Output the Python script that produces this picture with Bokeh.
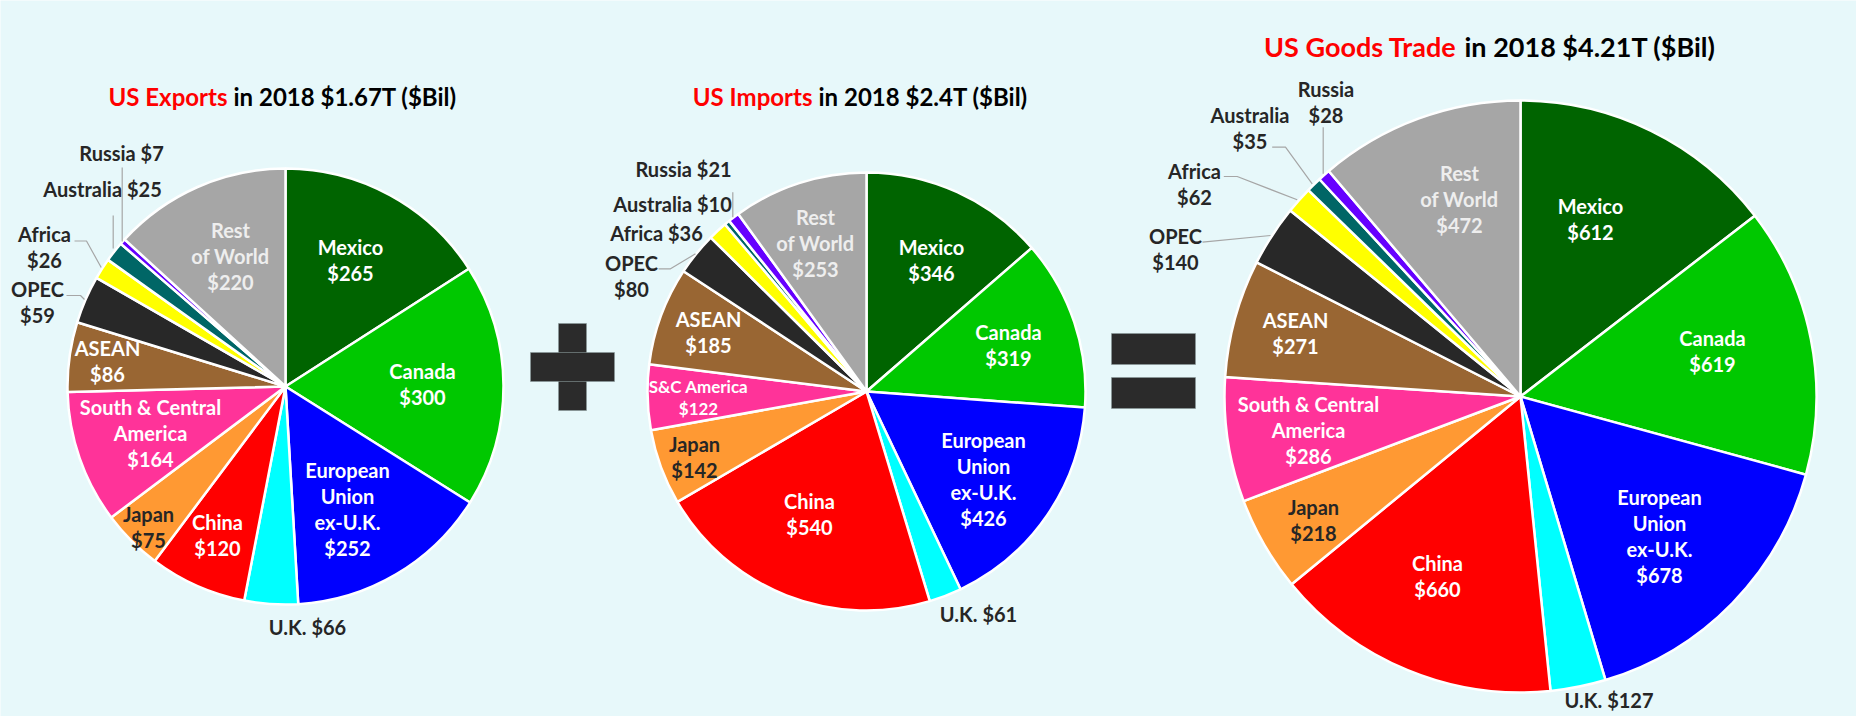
import numpy as np
from bokeh.plotting import figure
from bokeh.models import ColumnDataSource, Range1d
from bokeh.core.properties import value
from bokeh.embed import file_html
from bokeh.resources import INLINE

# ---------------- data ----------------
regions = ["Mexico", "Canada", "European Union ex-U.K.", "U.K.", "China", "Japan",
           "South & Central America", "ASEAN", "OPEC", "Africa", "Australia", "Russia",
           "Rest of World"]
exports = [265, 300, 252, 66, 120, 75, 164, 86, 59, 26, 25, 7, 220]
imports = [346, 319, 426, 61, 540, 142, 122, 185, 80, 36, 10, 21, 253]
trade = [612, 619, 678, 127, 660, 218, 286, 271, 140, 62, 35, 28, 472]
colors = ["#006400", "#00C800", "#0000FF", "#00FFFF", "#FF0000", "#FF9933",
          "#FF3399", "#996633", "#282828", "#FFFF00", "#006666", "#6600FF", "#A6A6A6"]

# label name texts (line breaks) used for each pie
names_std = ["Mexico", "Canada", "European\nUnion\nex-U.K.", "U.K.", "China", "Japan",
             "South & Central\nAmerica", "ASEAN", "OPEC", "Africa", "Australia", "Russia",
             "Rest\nof World"]
names_imp = list(names_std)
names_imp[6] = "S&C America"

# ---------------- layout / style ----------------
REF_W, REF_H = 1856, 716
BG = "#E7F8FA"
WHITE_TXT = "#FFFFFF"
DARK_TXT = "#262626"
GREY_TXT = "#EEEEEE"
FONT = value("Lato")
LBL_SIZE = 20
LINE_GAP = 26

txt_colors = [WHITE_TXT, WHITE_TXT, WHITE_TXT, DARK_TXT, WHITE_TXT, DARK_TXT,
              WHITE_TXT, WHITE_TXT, DARK_TXT, DARK_TXT, DARK_TXT, DARK_TXT, GREY_TXT]

pies = [
    dict(values=exports, names=names_std, cx=285, cy=386, r=218,
         t_red="US Exports", t_rest="in 2018 $1.67T ($Bil)", t_split=(227, 233), t_y=96, t_size=24,
         seps=["\n", "\n", "\n", " ", "\n", "\n", "\n", "\n", "\n", "\n", " ", " ", "\n"],
         pos=[(350, 259), (422, 383), (347, 508), (307, 626), (217, 534.5), (148, 526),
              (150, 432), (107, 360.5), (37, 301.4), (44, 246.4), (102, 188.7), (121, 152.5),
              (230, 255.5)],
         sizes=[LBL_SIZE] * 13, gaps=[LINE_GAP] * 13,
         leaders=[[(121.7, 167), (121.7, 241)],
                  [(112.7, 215), (112.7, 248)],
                  [(74, 240.5), (86, 240.5), (100.7, 267)],
                  [(66, 295), (80, 295), (84, 299)]]),
    dict(values=imports, names=names_imp, cx=866, cy=391, r=219,
         t_red="US Imports", t_rest="in 2018 $2.4T ($Bil)", t_split=(812, 818), t_y=96, t_size=24,
         seps=["\n", "\n", "\n", " ", "\n", "\n", "\n", "\n", "\n", " ", " ", " ", "\n"],
         pos=[(931, 259), (1008, 344.5), (983, 478.7), (978, 613.3), (809, 513), (694, 456),
              (698, 396.7), (708, 331.7), (631, 275.5), (656, 232.8), (672, 203.5), (683, 168.4),
              (815, 242.5)],
         sizes=[LBL_SIZE] * 6 + [17] + [LBL_SIZE] * 6,
         gaps=[LINE_GAP] * 6 + [22] + [LINE_GAP] * 6,
         leaders=[[(658, 268.3), (670, 268.3), (695, 253.3)],
                  [(732.3, 191.7), (732.3, 216.7)]]),
    dict(values=trade, names=names_std, cx=1520, cy=396, r=296,
         t_red="US Goods Trade", t_rest="in 2018 $4.21T ($Bil)", t_split=(1456, 1464), t_y=46, t_size=27,
         seps=["\n", "\n", "\n", "  ", "\n", "\n", "\n", "\n", "\n", "\n", "\n", "\n", "\n"],
         pos=[(1590, 218.7), (1712, 350), (1659, 535), (1611, 699), (1437, 575), (1313, 519.7),
              (1308, 429), (1295, 332.5), (1175, 248.2), (1194, 183.1), (1249.5, 127.2),
              (1325.5, 101.2), (1459, 198.5)],
         sizes=[LBL_SIZE] * 13, gaps=[LINE_GAP] * 13,
         leaders=[[(1322.7, 126.7), (1322.7, 173.3)],
                  [(1271.7, 146.7), (1285, 146.7), (1311.7, 183.3)],
                  [(1223.3, 176), (1236.7, 176), (1296.7, 199.3)],
                  [(1202, 241.7), (1270, 235)]]),
]

# operator signs (plus / equals) as bars: (left, right, top, bottom) in reference pixels
signs = [(558, 586, 323, 410), (530, 614, 352, 381),
         (1111, 1195, 333, 364), (1111, 1195, 377, 408)]

W, H = REF_W, REF_H
p = figure(width=W, height=H, output_backend="svg", toolbar_location=None,
           x_range=Range1d(0, W), y_range=Range1d(0, H),
           min_border=0, x_axis_location=None, y_axis_location=None)
p.grid.visible = False
p.outline_line_color = None
p.background_fill_color = BG
p.border_fill_color = BG

def fy(y):
    return REF_H - y

for pie in pies:
    vals = np.array(pie["values"], dtype=float)
    total = vals.sum()
    cum = np.concatenate([[0.0], np.cumsum(vals)])
    k = 2 * np.pi / total
    src = ColumnDataSource(dict(
        x=[pie["cx"]] * len(vals), y=[fy(pie["cy"])] * len(vals),
        start=np.pi / 2 - cum[1:] * k, end=np.pi / 2 - cum[:-1] * k,
        color=colors, region=regions, val=vals))
    p.wedge(x="x", y="y", radius=pie["r"], start_angle="start", end_angle="end",
            fill_color="color", line_color="white", line_width=2.5, source=src)

    # leader lines
    p.multi_line(xs=[[pt[0] for pt in L] for L in pie["leaders"]],
                 ys=[[fy(pt[1]) for pt in L] for L in pie["leaders"]],
                 line_color="#A6A6A6", line_width=1.2)

    # labels, one text per line
    lx, ly, lt, lc, ls = [], [], [], [], []
    for i, v in enumerate(pie["values"]):
        label = pie["names"][i] + pie["seps"][i] + "$" + str(v)
        lines = label.split("\n")
        n = len(lines)
        x0, y0 = pie["pos"][i]
        for j, line in enumerate(lines):
            lx.append(x0)
            ly.append(fy(y0 + (j - (n - 1) / 2) * pie["gaps"][i]))
            lt.append(line)
            lc.append(txt_colors[i])
            ls.append(f"{pie['sizes'][i]}px")
    p.text(x=lx, y=ly, text=lt, text_color=lc, text_font_size=ls, text_font=FONT,
           text_font_style="bold", text_align="center", text_baseline="middle")

    # title (red part + black part)
    p.text(x=[pie["t_split"][0]], y=[fy(pie["t_y"])], text=[pie["t_red"]], text_color="#FF0000",
           text_font=FONT, text_font_style="bold", text_font_size=f"{pie['t_size']}px",
           text_align="right", text_baseline="middle")
    p.text(x=[pie["t_split"][1]], y=[fy(pie["t_y"])], text=[pie["t_rest"]], text_color="#000000",
           text_font=FONT, text_font_style="bold", text_font_size=f"{pie['t_size']}px",
           text_align="left", text_baseline="middle")

p.quad(left=[s[0] for s in signs], right=[s[1] for s in signs],
       top=[fy(s[2]) for s in signs], bottom=[fy(s[3]) for s in signs],
       fill_color="#2B2B2B", line_color="#8A9A9A", line_width=0.6)

open("out.html", "w").write(file_html(p, INLINE))
